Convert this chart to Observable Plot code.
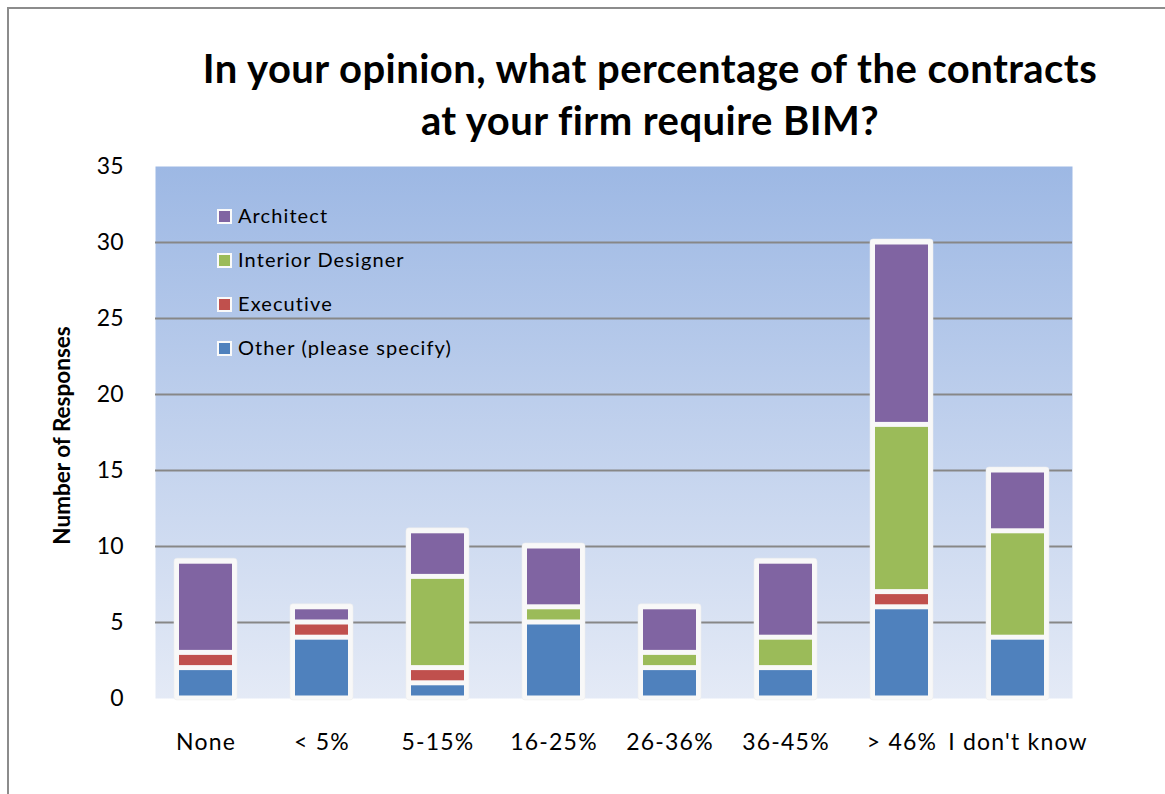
<!DOCTYPE html>
<html>
<head>
<meta charset="utf-8">
<script src="https://cdn.jsdelivr.net/npm/d3@7"></script>
<script src="https://cdn.jsdelivr.net/npm/@observablehq/plot@0.6"></script>
<style>
  html, body { margin: 0; padding: 0; background: #fff; }
  #wrap { position: relative; width: 1165px; height: 794px; overflow: hidden; font-family: Lato, "Open Sans", sans-serif; }
  #border { position: absolute; left: 7px; top: 7px; width: 1200px; height: 900px; border: 2px solid #8c8c8c; box-sizing: border-box; pointer-events: none; }
  #title { position: absolute; left: 0; top: 42px; width: 1300px; text-align: center; font-weight: 700; font-size: 40px; letter-spacing: 0.45px; line-height: 52px; color: #000; }
  #chart { position: absolute; left: 0; top: 140px; }
  #legend { position: absolute; left: 217px; top: 203px; font-size: 20px; letter-spacing: 1.1px; color: #000; }
  .item { height: 44px; display: flex; align-items: flex-start; }
  .sw { width: 11px; height: 11px; border: 2.5px solid #fafafa; margin-top: 6px; margin-right: 6px; }
</style>
</head>
<body>
<div id="wrap">
  <div id="border"></div>
  <div id="chart"></div>
  <div id="title">In your opinion, what percentage of the contracts<br>at your firm require BIM?</div>
  <div id="legend"></div>
</div>
<script>
const categories = ["None", "< 5%", "5-15%", "16-25%", "26-36%", "36-45%", "> 46%", "I don't know"];
const seriesNames = ["Other (please specify)", "Executive", "Interior Designer", "Architect"];
const other     = [2, 4, 1, 5, 2, 2, 6, 4];
const executive = [1, 1, 1, 0, 0, 0, 1, 0];
const interior  = [0, 0, 6, 1, 1, 2, 11, 7];
const architect = [6, 1, 3, 4, 3, 5, 12, 4];
const seriesColors = ["#4f81bd", "#c0504d", "#9bbb59", "#8064a2"];
const yTicks = [0, 5, 10, 15, 20, 25, 30, 35];
const legendOrder = ["Architect", "Interior Designer", "Executive", "Other (please specify)"];

const seriesValues = [other, executive, interior, architect];
const rows = [];
categories.forEach((c, i) => {
  seriesNames.forEach((s, j) => {
    rows.push({category: c, series: s, value: seriesValues[j][i]});
  });
});
const totals = categories.map((c, i) => ({category: c, total: seriesValues.reduce((a, arr) => a + arr[i], 0)}));

const chart = Plot.plot({
  width: 1165,
  height: 654,
  marginLeft: 148,
  marginRight: 89,
  marginTop: 26,
  marginBottom: 96,
  style: {fontFamily: "Lato, 'Open Sans', sans-serif", background: "transparent", overflow: "visible"},
  x: {domain: categories, paddingInner: 0.543, paddingOuter: 0.2715, label: null},
  y: {domain: [0, 35], ticks: yTicks, label: null},
  color: {domain: seriesNames, range: seriesColors},
  marks: [
    Plot.frame({fill: "url(#bgGrad)", stroke: "none", insetLeft: 7, insetRight: 4}),
    Plot.ruleY(yTicks.filter(t => t > 0 && t < 35), {stroke: "#878787", strokeWidth: 2, insetLeft: 7, insetRight: 4}),
    Plot.barY(totals, {x: "category", y: "total", fill: "#f8f8f8", stroke: "#ececec", strokeWidth: 0.5, insetLeft: -5, insetRight: -5, insetTop: -3, insetBottom: -2, rx: 3}),
    Plot.barY(rows, Plot.stackY({x: "category", y: "value", fill: "series", order: seriesNames, insetTop: 2.5, insetBottom: 2.5, filter: d => d.value > 0})),
    Plot.axisX({tickSize: 0, tickPadding: 35, fontSize: 23, label: null, className: "xax"}),
    Plot.axisY({ticks: yTicks, tickSize: 0, tickPadding: 25, fontSize: 23, label: null}),
    Plot.text(["Number of Responses"], {frameAnchor: "left", textAnchor: "middle", dx: -86, dy: 3, rotate: -90, fontSize: 22.5, fontWeight: "bold", fill: "#000"})
  ]
});

// gradient definition for plot background
const svg = d3.select(chart);
const defs = svg.insert("defs", ":first-child");
const g = defs.append("linearGradient").attr("id", "bgGrad").attr("x1", 0).attr("y1", 0).attr("x2", 0).attr("y2", 1);
g.append("stop").attr("offset", "0%").attr("stop-color", "#9db8e4");
g.append("stop").attr("offset", "100%").attr("stop-color", "#e4eaf6");
svg.selectAll("text").attr("fill", "#000");
svg.selectAll(".xax text").style("letter-spacing", "1.2px");

document.getElementById("chart").appendChild(chart);

const legend = document.getElementById("legend");
legendOrder.forEach(name => {
  const it = document.createElement("div");
  it.className = "item";
  const sw = document.createElement("div");
  sw.className = "sw";
  sw.style.background = seriesColors[seriesNames.indexOf(name)];
  const lb = document.createElement("span");
  lb.textContent = name;
  it.appendChild(sw);
  it.appendChild(lb);
  legend.appendChild(it);
});
</script>
</body>
</html>
